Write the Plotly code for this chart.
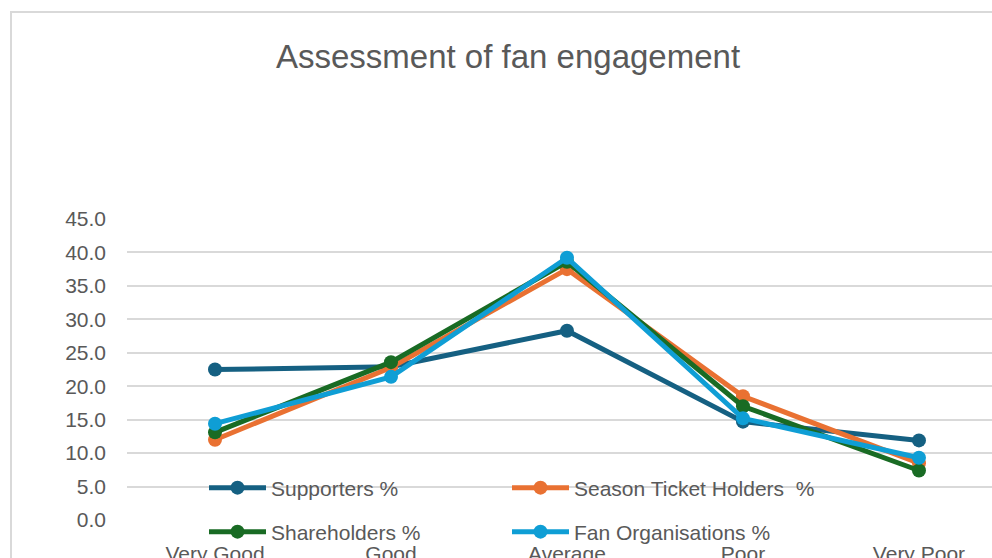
import plotly.graph_objects as go

# Survey ratings and the share (%) of each group giving that rating
ratings = ["Very Good", "Good", "Average", "Poor", "Very Poor"]
supporters = [22.5, 22.9, 28.3, 14.7, 11.9]
season_ticket_holders = [12.0, 22.8, 37.5, 18.5, 8.5]
shareholders = [13.1, 23.6, 38.6, 17.0, 7.4]
fan_organisations = [14.4, 21.4, 39.2, 15.2, 9.3]

y_ticks = [0, 5, 10, 15, 20, 25, 30, 35, 40, 45]

W, H = 992, 558
M_L, M_R, M_T, M_B = 127, 0, 218, 37
FONT = "Liberation Sans, Arial, sans-serif"
TEXT = "#595959"
GRID = "#D9D9D9"

# name, values, colour, legend id, legend position (px from top-left)
series = [
    ("Supporters %", supporters, "#156082", "legend", (204, 488)),
    ("Season Ticket Holders  %", season_ticket_holders, "#E97132", "legend2", (507, 488)),
    ("Shareholders %", shareholders, "#196B24", "legend3", (204, 532)),
    ("Fan Organisations %", fan_organisations, "#0F9ED5", "legend4", (507, 532)),
]

fig = go.Figure()
for name, values, color, leg, _ in series:
    fig.add_trace(go.Scatter(
        x=ratings, y=values, name=name, mode="lines+markers",
        line=dict(color=color, width=5),
        marker=dict(color=color, size=14),
        legend=leg, showlegend=True,
    ))

# Chart-area frame (top and left edges)
plot_w = W - M_L - M_R
plot_h = H - M_T - M_B
def px_x(px):
    return (px - M_L) / plot_w
def px_y(py):
    return (H - M_B - py) / plot_h

fx, fy = px_x(11), px_y(12)
fig.add_shape(
    type="path", xref="paper", yref="paper",
    path=f"M {fx} {px_y(H + 20)} L {fx} {fy} L {px_x(W + 20)} {fy}",
    line=dict(color=GRID, width=2), layer="below",
)

legend_common = dict(
    orientation="h", xref="container", yref="container",
    xanchor="left", yanchor="middle",
    itemwidth=57, bgcolor="rgba(0,0,0,0)",
    font=dict(family=FONT, size=21, color=TEXT),
)
legends = {
    leg: dict(x=pos[0] / W, y=1 - pos[1] / H, **legend_common)
    for _, _, _, leg, pos in series
}

fig.update_layout(
    width=W, height=H,
    showlegend=True,
    margin=dict(l=M_L, r=M_R, t=M_T, b=M_B, autoexpand=False),
    paper_bgcolor="white", plot_bgcolor="white",
    font=dict(family=FONT, size=21, color=TEXT),
    title=dict(
        text="Assessment of fan engagement",
        font=dict(family=FONT, size=33, color=TEXT),
        xref="container", yref="container",
        x=508 / W, y=1 - 56 / H, xanchor="center", yanchor="middle",
    ),
    xaxis=dict(
        type="category", range=[-0.5, 4.415], automargin=False,
        showgrid=False, showline=False, zeroline=False,
        ticks="", ticklabelstandoff=18,
        tickfont=dict(family=FONT, size=21, color=TEXT),
    ),
    yaxis=dict(
        range=[-0.15, 45.15], tickvals=y_ticks, automargin=False,
        tickformat=".1f",
        showgrid=True, gridcolor=GRID, gridwidth=2,
        zeroline=False, showline=False, ticks="",
        ticklabelstandoff=20,
        tickfont=dict(family=FONT, size=21, color=TEXT),
    ),
    hovermode=False,
    **legends,
)

fig.write_html("out.html")
